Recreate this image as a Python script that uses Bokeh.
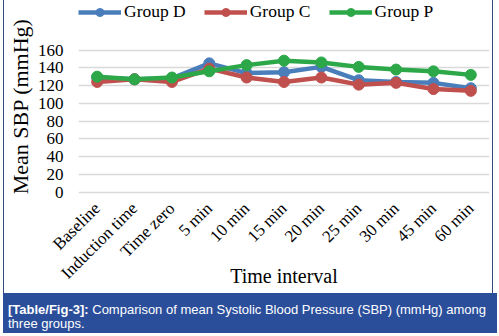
import math
from bokeh.plotting import figure
from bokeh.models import Legend, LegendItem, Range1d, FactorRange, FixedTicker, Div
from bokeh.layouts import column
from bokeh.embed import file_html
from bokeh.resources import INLINE

categories = ["Baseline", "Induction time", "Time zero", "5 min", "10 min", "15 min",
              "20 min", "25 min", "30 min", "45 min", "60 min"]
group_d = [129, 127, 128, 145, 134, 135, 141, 126, 124, 123, 117]
group_c = [124, 127, 124, 139, 129, 124, 129, 121, 123, 116, 114]
group_p = [130, 127, 129, 136, 143, 148, 146, 141, 138, 136, 132]
y_ticks = [0, 20, 40, 60, 80, 100, 120, 140, 160]
series_names = ["Group D", "Group C", "Group P"]
series_colors = ["#4a7ebb", "#c0504d", "#2ca849"]
x_title = "Time interval"
y_title = "Mean SBP (mmHg)"
caption_bold = "[Table/Fig-3]:"
caption_line1 = "Comparison of mean Systolic Blood Pressure (SBP) (mmHg) among"
caption_line2 = "three groups."

SERIF = "Liberation Serif"
SANS = "Liberation Sans"

# frame spans y=0..195 px; value 0 -> 191.5 px, 160 -> 49.5 px
p = figure(x_range=FactorRange(factors=categories), y_range=Range1d(-3.9, 215.8),
           width=490, height=293, output_backend="svg", toolbar_location=None,
           min_border_left=71, min_border_right=5, min_border_top=0, min_border_bottom=98,
           background_fill_color="white", border_fill_color="white", outline_line_color=None)
p.margin = (0, 0, 0, 3)
p.styles = {"border-left": "1px solid #34497d", "border-right": "1px solid #34497d"}

for ax in (p.xaxis, p.yaxis):
    ax.axis_line_color = None
    ax.major_tick_line_color = None
    ax.minor_tick_line_color = None
    ax.major_tick_out = 0
    ax.major_tick_in = 0
    ax.major_label_text_color = "#000000"
    ax.major_label_text_font = SERIF
    ax.axis_label_text_font = SERIF
    ax.axis_label_text_font_style = "normal"
    ax.axis_label_text_color = "#000000"

p.xaxis.major_label_orientation = math.pi / 4
p.xaxis.major_label_text_font_size = "17px"
p.xaxis.major_label_standoff = 10
p.xaxis.axis_label = x_title
p.xaxis.axis_label_text_font_size = "20px"
p.xaxis.axis_label_standoff = -27

p.yaxis.ticker = FixedTicker(ticks=y_ticks)
p.yaxis.major_label_text_font_size = "17px"
p.yaxis.major_label_standoff = 15
# a few trailing no-break spaces nudge the rotated title down toward the value grid
p.yaxis.axis_label = y_title + "\u00a0" * 3
p.yaxis.axis_label_text_font_size = "22px"
p.yaxis.axis_label_standoff = 2

p.xgrid.visible = False
p.ygrid.grid_line_color = "#d9d9d9"
p.ygrid.grid_line_width = 1.5

items = []
for name, vals, col in zip(series_names, [group_d, group_c, group_p], series_colors):
    l = p.line(categories, vals, line_color=col, line_width=4.5)
    s = p.scatter(categories, vals, size=11, fill_color=col, line_color=col)
    items.append(LegendItem(label=name, renderers=[l, s]))

legend = Legend(items=items, orientation="horizontal", location=(0, 173), padding=0, margin=0,
                spacing=18, glyph_width=43, glyph_height=20, label_standoff=3,
                label_height=20, label_text_font=SERIF, label_text_font_size="17.5px",
                label_text_color="#000000", border_line_color=None, background_fill_alpha=0)
p.add_layout(legend, "center")

caption_html = ('<b>' + caption_bold + '</b> ' + caption_line1 + '<br>' + caption_line2)
cap = Div(text=caption_html, width=494, height=40, margin=(0, 0, 0, 3),
          styles={"background-color": "#2b4e9b", "color": "white",
                  "font-family": SANS, "font-size": "13px", "line-height": "13.5px",
                  "padding": "10px 0 0 5px", "box-sizing": "border-box",
                  "white-space": "nowrap", "overflow": "hidden"})

layout = column(p, cap, spacing=0)
open("out.html", "w").write(file_html(layout, INLINE))
